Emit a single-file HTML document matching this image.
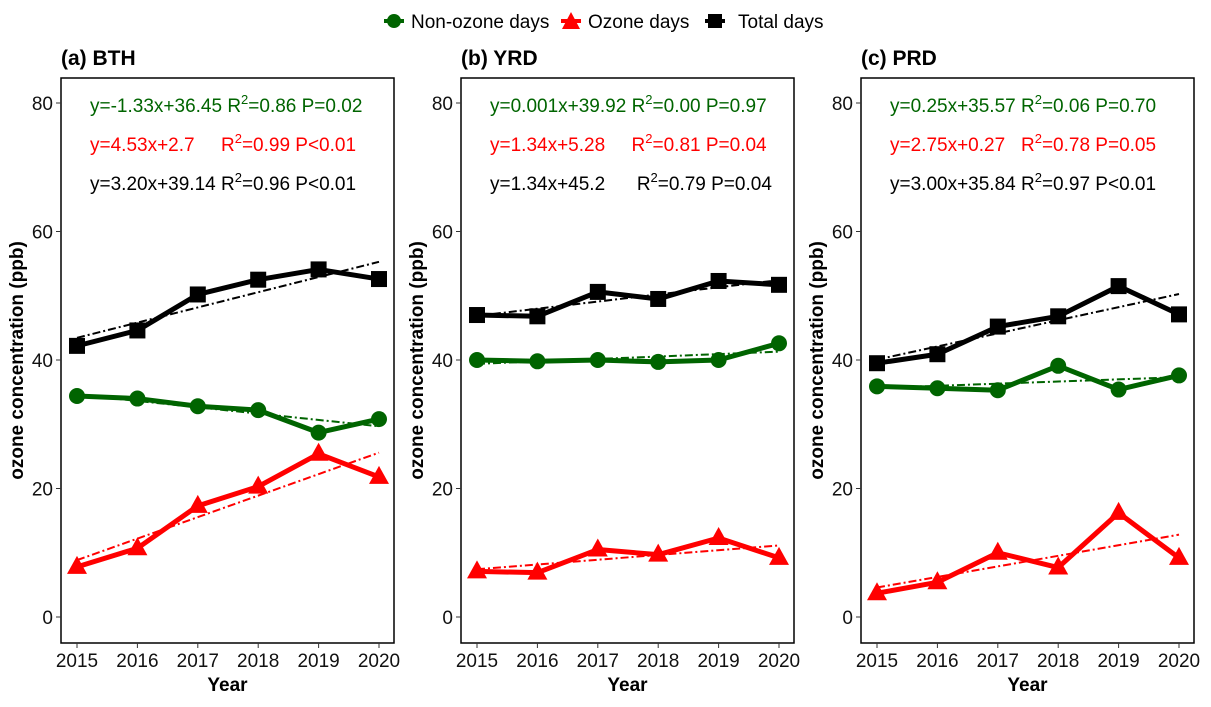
<!DOCTYPE html>
<html><head><meta charset="utf-8"><style>
body{margin:0;background:#fff;}
svg text{font-family:"Liberation Sans",Arial,sans-serif;}
</style></head><body>
<svg id="c" width="1211" height="702" xmlns="http://www.w3.org/2000/svg">
<g>
<circle cx="394" cy="21" r="7" fill="#006400"/><line x1="384" y1="21" x2="404" y2="21" stroke="#006400" stroke-width="4"/>
<text x="411" y="28" font-size="19">Non-ozone days</text>
<polygon points="571,12 580,29 562,29" fill="#ff0000"/><line x1="561" y1="21" x2="581" y2="21" stroke="#ff0000" stroke-width="4"/>
<text x="588" y="28" font-size="19">Ozone days</text>
<rect x="708" y="14" width="14" height="14" fill="#000"/><line x1="705" y1="21" x2="725" y2="21" stroke="#000" stroke-width="4"/>
<text x="738" y="28" font-size="19">Total days</text>
</g>
</svg>
<script>
const years=[2015,2016,2017,2018,2019,2020];
const yTicks=[0,20,40,60,80];
const titles=["(a) BTH","(b) YRD","(c) PRD"];
const green=[[34.4,34.0,32.8,32.2,28.7,30.8],[40.0,39.8,40.0,39.7,40.0,42.6],[35.9,35.6,35.3,39.1,35.4,37.6]];
const red=[[7.8,10.7,17.3,20.3,25.4,21.8],[7.1,6.9,10.5,9.7,12.3,9.2],[3.7,5.4,10.0,7.7,16.2,9.2]];
const black=[[42.2,44.6,50.2,52.5,54.1,52.6],[47.0,46.8,50.6,49.5,52.3,51.7],[39.5,40.9,45.2,46.8,51.5,47.1]];
const eqG=[["y=-1.33x+36.45 R","=0.86 P=0.02"],["y=0.001x+39.92 R","=0.00 P=0.97"],["y=0.25x+35.57 R","=0.06 P=0.70"]];
const eqR=[["y=4.53x+2.7     R","=0.99 P<0.01"],["y=1.34x+5.28     R","=0.81 P=0.04"],["y=2.75x+0.27   R","=0.78 P=0.05"]];
const eqB=[["y=3.20x+39.14 R","=0.96 P<0.01"],["y=1.34x+45.2      R","=0.79 P=0.04"],["y=3.00x+35.84 R","=0.97 P<0.01"]];
const svg=document.getElementById('c');const NS="http://www.w3.org/2000/svg";
function mk(t,a,p){const e=document.createElementNS(NS,t);for(const k in a)e.setAttribute(k,a[k]);p.appendChild(e);return e;}
function fit(v){const n=v.length;let sx=0,sy=0,sxx=0,sxy=0;v.forEach((y,i)=>{sx+=i;sy+=y;sxx+=i*i;sxy+=i*y;});const b=(n*sxy-sx*sy)/(n*sxx-sx*sx);return [b,(sy-b*sx)/n];}
for(let p=0;p<3;p++){
 const off=p*400,L=61+off,R=394+off,T=78,B=643;
 const X=i=>77+off+i*60.4, Y=v=>617-v*6.425;
 const g=mk('g',{},svg);
 
 
 const t=mk('text',{x:L,y:65,'font-size':21,'font-weight':'bold'},g);t.textContent=titles[p];
 
 mk('rect',{x:L,y:T,width:R-L,height:B-T,fill:'none',stroke:'#000','stroke-width':1.5},g);
 yTicks.forEach(v=>{mk('line',{x1:L-5,x2:L,y1:Y(v),y2:Y(v),stroke:'#333'},g);const tt=mk('text',{x:L-8,y:Y(v)+7,'font-size':19,'text-anchor':'end',fill:'#111'},g);tt.textContent=v;
  });
 years.forEach((yr,i)=>{mk('line',{x1:X(i),x2:X(i),y1:B,y2:B+5,stroke:'#333'},g);const tt=mk('text',{x:X(i),y:B+24,'font-size':19,'text-anchor':'middle',fill:'#111'},g);tt.textContent=yr;
  });
 const xt=mk('text',{x:(L+R)/2,y:691,'font-size':19,'font-weight':'bold','text-anchor':'middle'},g);xt.textContent='Year';
 
 const yt=mk('text',{x:0,y:0,'font-size':19,'font-weight':'bold','text-anchor':'middle',transform:`translate(${L-38},${(T+B)/2}) rotate(-90)`},g);yt.textContent='ozone concentration (ppb)';
 
 [[green[p],'#006400','c'],[red[p],'#ff0000','t'],[black[p],'#000','s']].forEach(([d,col,sh])=>{
  const s=mk('g',{},g);
  
  
  const [b,a]=fit(d);
  mk('line',{x1:X(0),y1:Y(a),x2:X(5),y2:Y(a+5*b),stroke:col,'stroke-width':2,'stroke-dasharray':'8,3,2,3'},s);
  mk('polyline',{points:d.map((v,i)=>X(i)+','+Y(v)).join(' '),fill:'none',stroke:col,'stroke-width':5,'stroke-linejoin':'round'},s);
  d.forEach((v,i)=>{let m;const x=X(i),y=Y(v);
   if(sh=='c')m=mk('circle',{cx:x,cy:y,r:8,fill:col},s);
   else if(sh=='t')m=mk('polygon',{points:`${x},${y-11} ${x+10},${y+7} ${x-10},${y+7}`,fill:col},s);
   else m=mk('rect',{x:x-8,y:y-8,width:16,height:16,fill:col},s);
   });
 });
 [[eqG[p],'#006400',112],[eqR[p],'#ff0000',151],[eqB[p],'#000',190]].forEach(([e,col,y])=>{
  const tx=mk('text',{x:L+29,y:y,'font-size':19,fill:col,'xml:space':'preserve'},g);
  
  tx.style.whiteSpace='pre';
  const a=mk('tspan',{},tx);a.textContent=e[0];
  const s2=mk('tspan',{dy:-8,'font-size':13},tx);s2.textContent='2';
  const c=mk('tspan',{dy:8},tx);c.textContent=e[1];
 });
}
</script>
</body></html>
